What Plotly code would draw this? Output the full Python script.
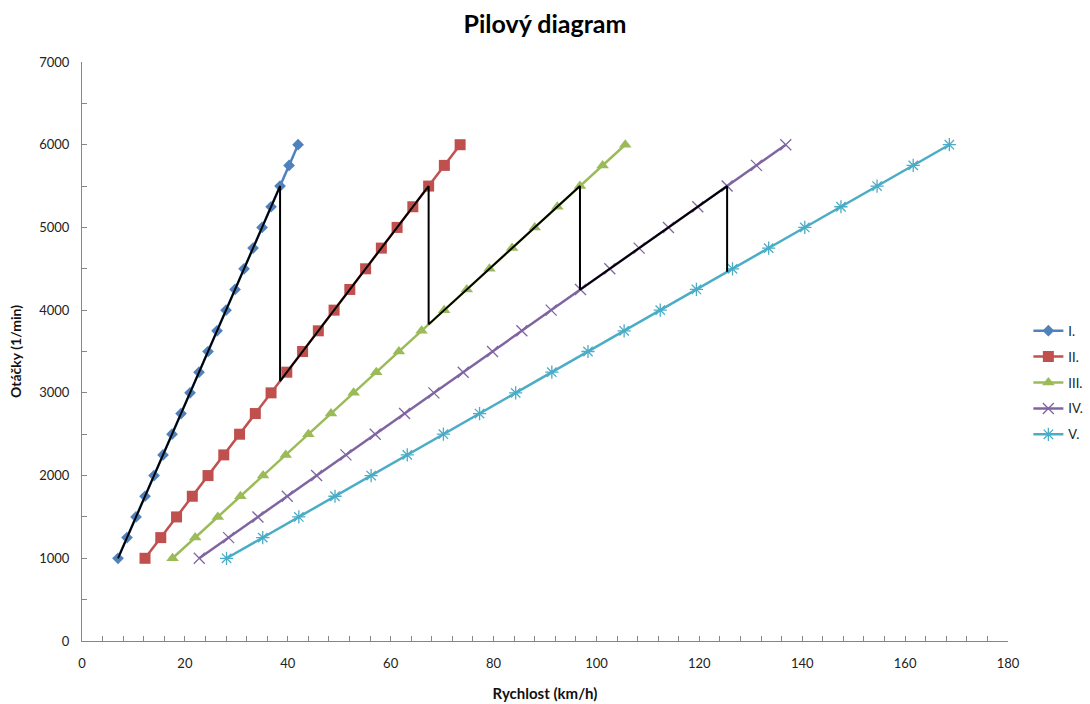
import plotly.graph_objects as go

rpm = [1000, 1250, 1500, 1750, 2000, 2250, 2500, 2750, 3000, 3250, 3500,
       3750, 4000, 4250, 4500, 4750, 5000, 5250, 5500, 5750, 6000]

speed_I = [7.0, 8.75, 10.5, 12.25, 14.0, 15.75, 17.5, 19.25, 21.0, 22.75, 24.5,
           26.25, 28.0, 29.75, 31.5, 33.25, 35.0, 36.75, 38.5, 40.25, 42.0]
speed_II = [12.25, 15.31, 18.38, 21.44, 24.5, 27.56, 30.63, 33.69, 36.75, 39.81, 42.88,
            45.94, 49.0, 52.06, 55.13, 58.19, 61.25, 64.31, 67.38, 70.44, 73.5]
speed_III = [17.6, 22.0, 26.4, 30.8, 35.2, 39.6, 44.0, 48.4, 52.8, 57.2, 61.6,
             66.0, 70.4, 74.8, 79.2, 83.6, 88.0, 92.4, 96.8, 101.2, 105.6]
speed_IV = [22.8, 28.5, 34.2, 39.9, 45.6, 51.3, 57.0, 62.7, 68.4, 74.1, 79.8,
            85.5, 91.2, 96.9, 102.6, 108.3, 114.0, 119.7, 125.4, 131.1, 136.8]
speed_V = [28.1, 35.13, 42.15, 49.18, 56.2, 63.23, 70.25, 77.28, 84.3, 91.33, 98.35,
           105.38, 112.4, 119.43, 126.45, 133.48, 140.5, 147.53, 154.55, 161.58, 168.6]

saw_speed = [7.0, 38.5, 38.5, 67.38, 67.38, 96.8, 96.8, 125.4, 125.4]
saw_rpm = [1000, 5500, 3143, 5500, 3828, 5500, 4246, 5500, 4463]

names = ["I.", "II.", "III.", "IV.", "V."]
series = [speed_I, speed_II, speed_III, speed_IV, speed_V]
colors = ["#4F81BD", "#C0504D", "#9BBB59", "#8064A2", "#4BACC6"]
symbols = ["diamond", "square", "triangle-up", "x-thin-open", "asterisk-open"]
msizes = [9, 11, 11, 11, 11]

FONT = "Lato, Open Sans, sans-serif"

fig = go.Figure()
for i, (n, s) in enumerate(zip(names, series)):
    open_sym = symbols[i].endswith("open")
    fig.add_trace(go.Scatter(
        x=s, y=rpm, name=n, mode="lines+markers",
        legendgroup=n,
        line=dict(color=colors[i], width=2.5),
        marker=dict(symbol=symbols[i], size=msizes[i], color=colors[i],
                    line=dict(color=colors[i], width=1.3 if open_sym else 0)),
    ))

fig.add_trace(go.Scatter(
    x=saw_speed, y=saw_rpm, mode="lines", showlegend=False,
    line=dict(color="black", width=2),
))

axis_common = dict(
    showline=True, linecolor="#868686", linewidth=1,
    ticks="inside", ticklen=5, tickcolor="#868686",
    showgrid=False, zeroline=False,
    tickfont=dict(family=FONT, size=13, color="#222222"),
)

fig.update_layout(
    width=1090, height=704,
    paper_bgcolor="white", plot_bgcolor="white",
    margin=dict(l=82, r=82, t=62, b=63, autoexpand=False),
    title=dict(text="<b>Pilový diagram</b>", x=0.5, xanchor="center",
               y=0.966, yanchor="middle",
               font=dict(family=FONT, size=25, color="black")),
    xaxis=dict(range=[0, 180], dtick=20, tick0=0,
               minor=dict(dtick=4, ticks="inside", ticklen=5, tickcolor="#868686"),
               ticklabelstandoff=10,
               title=dict(text="<b>Rychlost (km/h)</b>", standoff=18,
                          font=dict(family=FONT, size=15, color="#111111")),
               **axis_common),
    yaxis=dict(range=[0, 7000], dtick=1000, tick0=0,
               minor=dict(dtick=500, ticks="inside", ticklen=5, tickcolor="#868686"),
               ticklabelstandoff=9,
               title=dict(text="<b>Otáčky (1/min)</b>", standoff=14,
                          font=dict(family=FONT, size=14, color="#111111")),
               **axis_common),
    legend=dict(x=1.022, y=0.446, xanchor="left", yanchor="middle",
                tracegroupgap=6, itemwidth=30,
                font=dict(family=FONT, size=13, color="#222222")),
    showlegend=True,
)

fig.write_html("out.html")
